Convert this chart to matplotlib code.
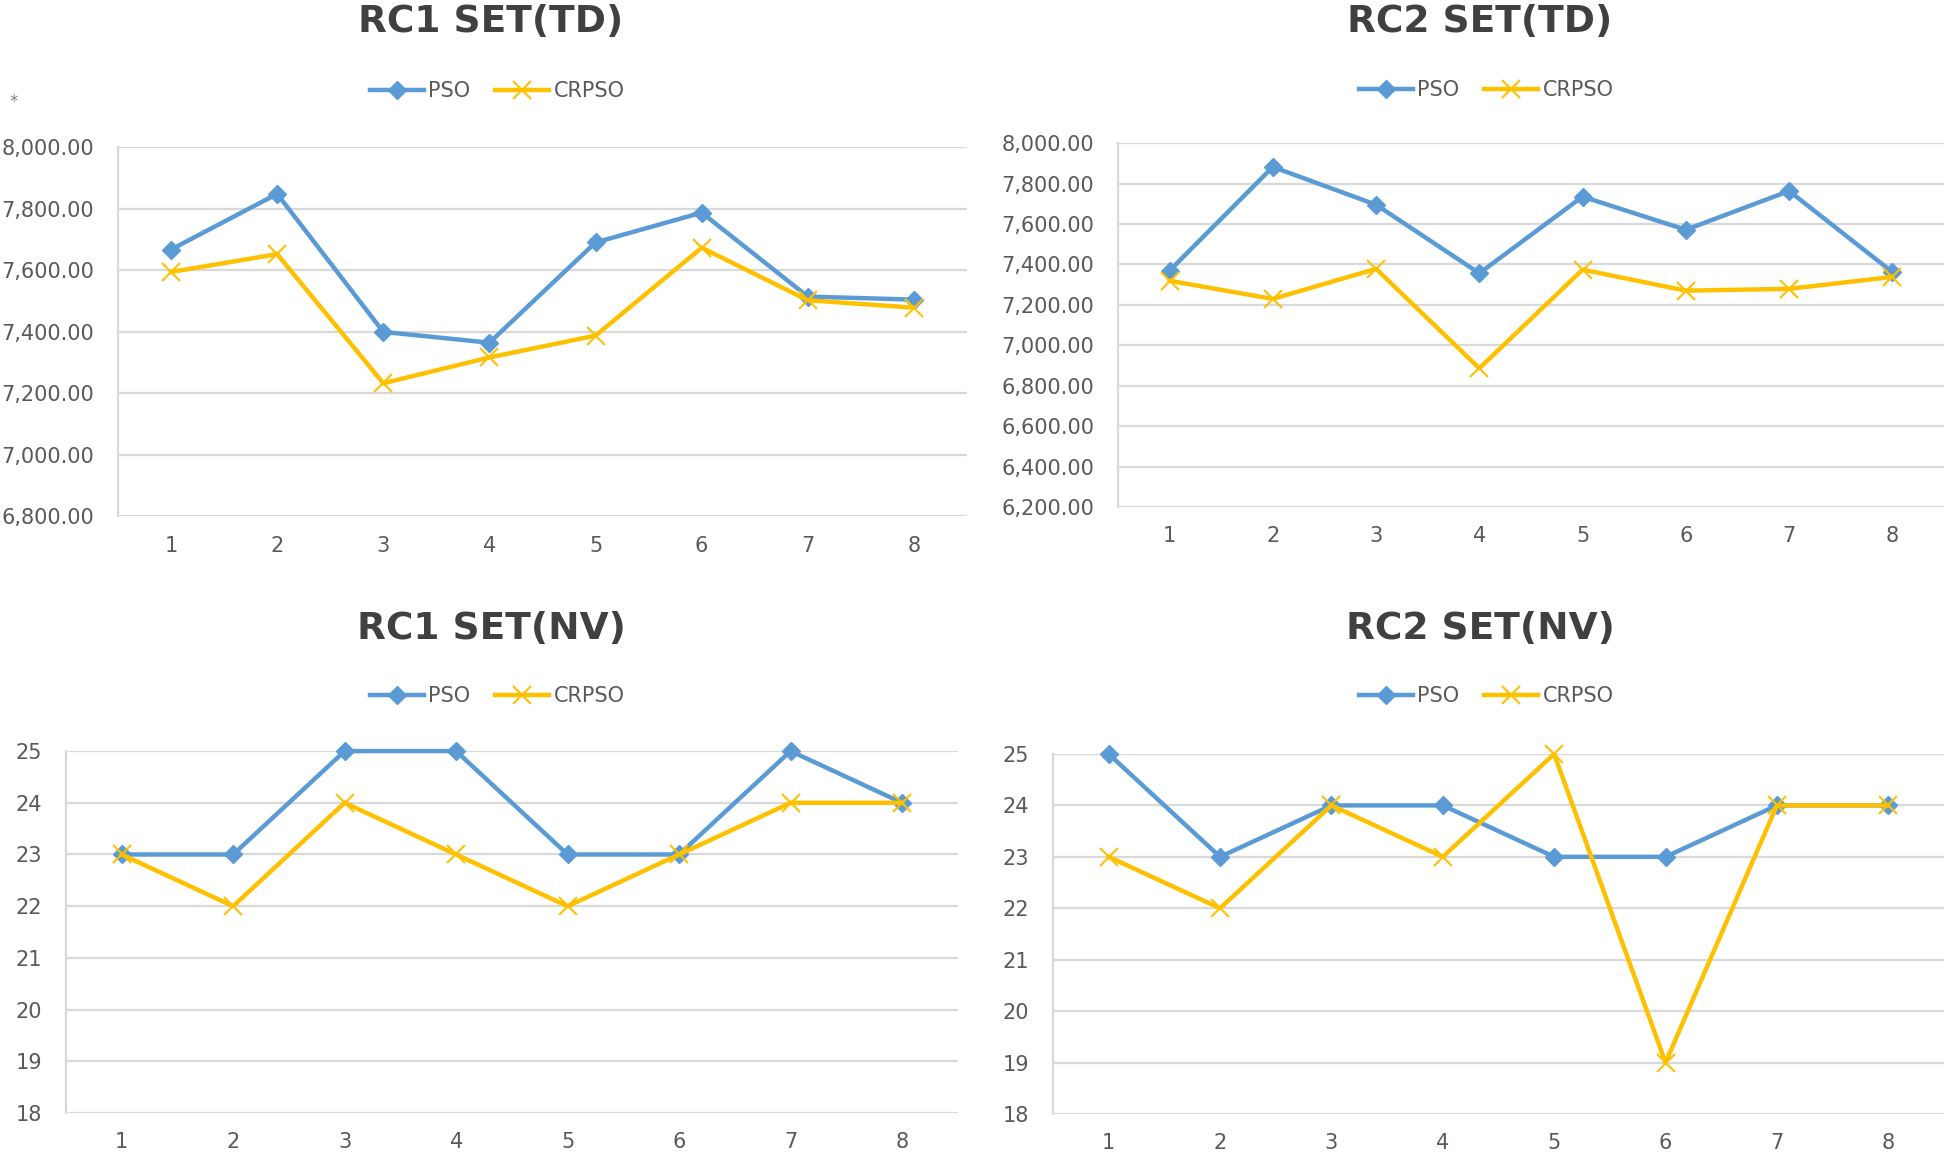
import numpy as np
import matplotlib
matplotlib.use("Agg")
import matplotlib.pyplot as plt
from matplotlib.ticker import FuncFormatter

plt.rcParams['font.family'] = ['DejaVu Sans']

runs = [1, 2, 3, 4, 5, 6, 7, 8]

rc1_td_pso = [7667, 7848, 7399, 7364, 7690, 7787, 7514, 7504]
rc1_td_crpso = [7594, 7652, 7232, 7316, 7387, 7673, 7502, 7478]
rc2_td_pso = [7369, 7882, 7695, 7356, 7735, 7571, 7763, 7362]
rc2_td_crpso = [7319, 7229, 7378, 6886, 7374, 7270, 7279, 7338]
rc1_nv_pso = [23, 23, 25, 25, 23, 23, 25, 24]
rc1_nv_crpso = [23, 22, 24, 23, 22, 23, 24, 24]
rc2_nv_pso = [25, 23, 24, 24, 23, 23, 24, 24]
rc2_nv_crpso = [23, 22, 24, 23, 25, 19, 24, 24]

BLUE = '#5B9BD5'
GOLD = '#FFC000'
GRID = '#D9D9D9'
TXT = '#595959'

W, H = 1950, 1165
fig = plt.figure(figsize=(W / 100, H / 100), dpi=100)


def panel(rect, title, title_xy, leg_xy, pso, crpso, ylim, step, money):
    ax = fig.add_axes(rect)
    ax.plot(runs, pso, color=BLUE, lw=3.2, marker='D', ms=9, label='PSO',
            zorder=3, clip_on=False)
    ax.plot(runs, crpso, color=GOLD, lw=3.2, marker='x', ms=13, mew=1.5,
            label='CRPSO', zorder=3, clip_on=False)
    ax.set_xlim(0.5, 8.5)
    ax.set_ylim(*ylim)
    ax.set_yticks(np.arange(ylim[0], ylim[1] + step / 2, step))
    ax.set_xticks(runs)
    if money:
        ax.yaxis.set_major_formatter(FuncFormatter(lambda v, p: f'{v:,.2f}'))
    ax.grid(axis='y', color=GRID, lw=1.6)
    ax.set_axisbelow(True)
    for s in ['top', 'right', 'bottom']:
        ax.spines[s].set_visible(False)
    ax.spines['left'].set_color(GRID)
    ax.spines['left'].set_linewidth(1.6)
    ax.tick_params(length=0, colors=TXT, labelsize=15)
    ax.tick_params(axis='y', pad=17)
    ax.tick_params(axis='x', pad=14)
    fig.text(title_xy[0] / W, 1 - title_xy[1] / H, title, ha='center', va='center',
             fontsize=27, fontweight='bold', color='#404040')
    ax.legend(loc='center', bbox_to_anchor=(leg_xy[0] / W, 1 - leg_xy[1] / H),
              bbox_transform=fig.transFigure, ncol=2, frameon=False, fontsize=15,
              labelcolor=TXT, handlelength=2.6, handletextpad=0.2, columnspacing=1.2)
    return ax


panel([0.0605, 0.557, 0.4354, 0.3167], 'RC1 SET(TD)', (491, 22), (497, 91),
      rc1_td_pso, rc1_td_crpso, (6800, 8000), 200, True)
panel([0.5733, 0.5648, 0.4236, 0.3124], 'RC2 SET(TD)', (1480, 22), (1486, 90),
      rc2_td_pso, rc2_td_crpso, (6200, 8000), 200, True)
panel([0.0338, 0.0446, 0.4574, 0.3107], 'RC1 SET(NV)', (491, 629), (497, 696),
      rc1_nv_pso, rc1_nv_crpso, (18, 25), 1, False)
panel([0.54, 0.0438, 0.4569, 0.309], 'RC2 SET(NV)', (1480, 629), (1486, 696),
      rc2_nv_pso, rc2_nv_crpso, (18, 25), 1, False)

fig.text(14 / W, 1 - 102 / H, '*', ha='center', va='center', fontsize=12, color='#808080')

fig.savefig('out.png', dpi=100)
